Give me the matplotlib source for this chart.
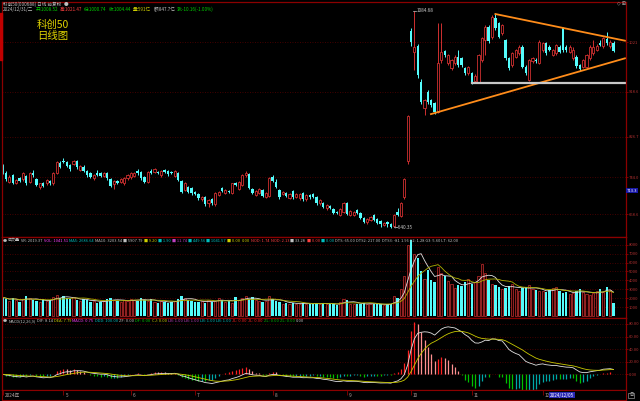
import numpy as np
import pandas as pd
import matplotlib
matplotlib.use("Agg")
import matplotlib.pyplot as plt
from matplotlib.patches import Rectangle

plt.rcParams['font.family'] = ['Noto Sans CJK SC', 'DejaVu Sans']

# ---------------- data ----------------
opens = [767.0, 753.0, 734.8, 748.5, 732.7, 741.7, 739.7, 746.5, 734.8, 751.9,
         739.7, 724.5, 732.7, 731.5, 735.6, 731.5, 752.0, 773.7, 777.2, 775.8,
         769.0, 771.1, 777.2, 758.8, 765.5, 757.3, 753.2, 741.7, 753.2, 751.9,
         746.5, 753.2, 740.9, 730.0, 736.2, 734.8, 731.5, 741.7, 743.8, 746.5,
         757.3, 755.3, 743.8, 734.8, 757.3, 754.6, 755.3, 747.9, 758.8, 756.7,
         755.3, 746.5, 753.2, 737.0, 717.8, 724.5, 721.3, 713.0, 709.6, 698.7,
         702.8, 690.5, 699.3, 688.5, 707.5, 721.3, 711.0, 716.3, 711.0, 732.7,
         719.8, 728.0, 747.9, 749.9, 719.8, 707.5, 712.3, 717.8, 704.0, 705.5,
         745.0, 734.8, 717.8, 709.6, 712.3, 700.8, 716.3, 704.0, 700.8, 711.0,
         698.7, 707.5, 709.6, 702.8, 690.5, 691.8, 680.3, 685.0, 678.2, 673.3,
         665.9, 673.3, 691.8, 666.6, 666.6, 676.8, 671.3, 659.8, 652.8, 656.3,
         666.6, 657.7, 654.3, 646.7, 652.8, 648.1, 644.0, 673.3, 664.5, 702.8,
         776.3,
         1043.6, 1000.0, 1012.8, 939.7, 885.8, 919.2, 902.2, 895.4, 878.2, 984.2,
         1001.6, 977.4, 967.1, 977.4, 991.0, 988.2, 967.8, 957.5, 957.5, 941.1,
         939.7, 984.2, 1025.1, 1052.4, 1031.9, 1069.6, 1059.4, 1039.5, 1025.1, 987.6,
         973.9, 990.9, 997.9, 1011.5, 970.5, 943.2, 981.1, 984.2, 977.4, 1004.6,
         1018.6, 1011.5, 994.4, 997.9, 1011.5, 1049.3, 1011.5, 1001.3, 987.6, 991.0,
         973.9, 970.5, 970.5, 987.6, 997.9, 1004.6, 1019.9, 1011.9, 1027.0, 1011.9,
         1020.0]
closes = [754.6, 739.7, 745.0, 732.7, 738.3, 736.9, 752.0, 731.5, 752.0, 747.9,
          728.0, 731.5, 726.0, 738.3, 731.5, 752.0, 775.8, 765.5, 775.2, 767.0,
          760.2, 777.8, 764.3, 767.0, 757.3, 747.9, 745.0, 748.5, 749.1, 746.5,
          753.2, 741.7, 726.0, 736.9, 732.7, 739.7, 743.0, 747.9, 752.0, 752.0,
          753.2, 741.7, 734.8, 754.6, 753.2, 760.2, 752.0, 756.7, 755.3, 749.9,
          752.0, 756.7, 738.3, 714.3, 731.5, 714.3, 711.0, 709.6, 700.8, 702.8,
          689.1, 697.3, 690.5, 711.0, 714.3, 716.3, 717.8, 713.0, 731.5, 727.4,
          734.8, 749.1, 752.0, 721.3, 711.0, 716.3, 719.1, 705.5, 711.0, 741.7,
          736.9, 723.3, 702.8, 713.7, 705.5, 709.6, 702.8, 709.6, 709.6, 698.7,
          707.5, 702.8, 704.0, 690.5, 697.3, 683.6, 687.0, 680.3, 671.3, 670.0,
          678.2, 691.8, 668.6, 675.4, 673.3, 670.0, 660.4, 652.8, 657.7, 663.1,
          656.3, 650.8, 648.1, 650.8, 648.1, 641.3, 666.6, 666.6, 691.8, 739.7,
          868.5,
          1021.7, 1010.0, 953.4, 898.7, 902.2, 898.7, 891.9, 878.2, 977.4, 1000.6,
          994.8, 994.4, 984.2, 991.0, 973.9, 973.9, 957.5, 969.8, 937.6, 951.4,
          994.4, 1028.6, 1052.4, 1023.7, 1072.9, 1049.1, 1032.0, 1055.9, 987.6, 967.1,
          998.5, 1004.6, 1011.5, 970.5, 956.9, 984.2, 988.0, 981.1, 1021.9, 1018.6,
          998.1, 1004.6, 1004.6, 1014.9, 1001.3, 1004.6, 1004.6, 1011.5, 1004.6, 971.9,
          965.1, 984.2, 994.4, 1011.5, 1011.5, 1012.8, 1015.2, 1029.1, 1018.8, 1022.0,
          1003.6]
highs = [771, 756, 748, 750, 741, 744, 754, 749, 754, 758,
         742, 733, 735, 741, 738, 754, 778, 777, 783, 778,
         771, 780, 779, 769, 768, 759, 755, 750, 758.8, 754,
         755, 755, 743, 739, 738, 742, 745, 750, 754, 754,
         760.2, 757, 746, 756, 760, 762, 757, 758, 761.4, 758,
         757, 759, 755, 739, 734, 727, 723, 715, 711, 705,
         705, 699, 701, 713, 716, 723, 720, 718, 733, 735,
         737, 751, 756, 752, 722, 718, 721, 720, 713, 744,
         748, 739.7, 720, 716, 714, 711, 718, 712, 712, 713,
         710, 710, 712, 705, 699, 694, 689, 687, 680, 675,
         680, 694, 694, 677, 675, 679, 673, 662, 660, 665,
         669, 660, 656, 653, 655, 650, 668, 680.3, 694, 742,
         871,
         1050, 1084.68, 1016, 945, 905, 922, 905, 898, 1059, 1060,
         1005, 997, 987, 995, 1004.6, 991, 970, 972, 960, 955,
         997, 1032, 1056, 1056, 1076, 1078.4, 1062, 1058, 1028, 990,
         1001, 1007, 1014, 1014, 973, 987, 991, 988, 1025, 1021,
         1021, 1014, 1007, 1017, 1014, 1052, 1014, 1014, 1011.5, 994,
         976, 987, 997, 1014, 1025, 1016, 1025, 1032, 1042.5, 1025,
         1023]
lows = [751, 737, 732, 730, 730, 734, 737, 729, 732, 745,
        725, 719, 723, 729, 729, 729, 750, 763, 772.5, 764,
        757, 769, 761, 756, 755, 745, 743, 739, 746.5, 744,
        744, 739, 723, 719, 730, 732, 729, 739, 741, 744,
        747.9, 739, 731.5, 732, 751, 752, 750, 745, 752, 747,
        750, 744, 736, 711, 715, 712, 708, 707, 698, 696,
        686, 683.6, 688, 686, 705, 714, 709, 711, 709, 725,
        717, 726, 745, 719, 709, 705, 710, 703, 700.8, 703,
        734, 721, 700, 707, 703, 698.7, 700, 702, 698, 696,
        696, 700, 702, 688, 688, 681, 676.8, 678, 669, 668,
        664, 671, 666, 664, 664, 668, 658, 650, 648.1, 654,
        654, 648, 642.6, 644, 642.6, 640.35, 642, 664, 662, 700,
        772,
        1012, 963, 948, 893, 871.5, 895, 888, 873.3, 875, 978,
        990, 974, 963, 974, 970, 970, 954, 954, 935, 937,
        937, 981, 994, 1020, 1028, 1045, 1029, 1036, 984, 963,
        970, 988, 995, 967, 953, 941, 978, 978, 975, 1001,
        995, 1002, 992, 995, 998, 1001, 1001, 998, 985, 968,
        961, 967, 967, 985, 995, 1002, 1012, 1009, 1015, 1009,
        1000]
volumes = [2100, 1900, 1700, 2000, 1800, 1600, 1900, 2200, 2000, 1800, 1700, 1600, 1900, 1700, 1800, 2100, 2400, 2000,
           2300, 2000, 1900, 2100, 1800, 1700, 1900, 1800, 1600, 1700, 1500, 1600, 1700, 1900, 2000, 1800, 1700, 1600, 1800, 1700,
           1900, 1800, 1700, 2000, 1800, 1700, 1900, 1600, 1500, 1700, 1600, 1500, 1600, 1700, 1900, 2300, 2000, 1800, 1700,
           1600, 1600, 1700, 1500, 1800, 1600, 1700, 2000, 1800, 1600, 1700, 1500, 2100, 1800, 2000, 2200, 1900, 2100, 1800, 1700, 1600, 1700, 2200,
           1900, 1700, 1600, 1400, 1500, 1400, 1500, 1300, 1400, 1500, 1300, 1400, 1300, 1500, 1400, 1500, 1300, 1400, 1300, 1200, 1600, 1900,
           1800, 1400, 1300, 1300, 1400, 1500, 1300, 1400, 1300, 1400, 1300, 1200, 1300, 1400, 2200, 2000, 3000, 4500, 8000,
           8500, 7000, 6500, 5000, 4200, 5200, 4000, 3800, 5500, 4800, 4500, 3900, 3600, 3200, 3500, 3400, 3800, 4200,
           3600, 3800, 4500, 5800, 4800, 4000, 3600, 3500, 3300, 3000, 3200, 3400, 3600, 3000, 2800, 3100, 3300, 3500, 3000, 2900, 2800,
           2800, 2700, 2900, 3100, 3300, 2800, 2600, 2700, 2500, 2600, 2800, 3000, 2700, 2500, 2400, 2600, 2800, 3000, 2700, 3300, 2900, 1500]

month_starts = [0, 18, 38, 57, 80, 102, 121, 139, 160]
month_labels = ['2024年', '5', '6', '7', '8', '9', '10', '11', '12']
price_ticks = [668.6, 744.0, 826.7, 918.6, 1021.0]
price_tick_labels = ['668.6', '744.0', '826.7', '918.6', '1021']
vol_ticks = [1000, 2000, 3000, 4000, 5000, 6000, 7000, 8000]
macd_ticks = [0, 20, 40, 60, 80]
low_value, low_index = 640.35, 115
high_value, high_index = 1084.68, 122
tri_upper_x, tri_upper_y = [146, 184.4], [1078.4, 1023.7]
tri_lower_x, tri_lower_y = [126.9, 184.4], [873.3, 987.6]
support_x, support_y = [139, 184.4], [937.6, 937.6]

# ---------------- figure ----------------
W, H = 640, 401
fig = plt.figure(figsize=(6.4, 4.01), dpi=100, facecolor='black')

def box(x0, y0, x1, y1):
    return [x0 / W, 1 - y1 / H, (x1 - x0) / W, (y1 - y0) / H]

FRAME = '#8b0000'
GRID = '#5a0000'
LAB = '#b03030'
CYAN = '#54fcfc'
RED = '#d03030'
VRED = '#a82828'

ax_p = fig.add_axes(box(2, 2, 626, 237))
ax_v = fig.add_axes(box(2, 237, 626, 318))
ax_m = fig.add_axes(box(2, 318, 626, 390))
for ax in (ax_p, ax_v, ax_m):
    ax.set_facecolor('black')
    ax.set_xlim(-0.2, 184.7)
    for s in ax.spines.values():
        s.set_color(FRAME)
        s.set_linewidth(0.9)
    ax.tick_params(axis='x', bottom=False, labelbottom=False)
    ax.yaxis.tick_right()
    ax.tick_params(axis='y', colors=FRAME, labelcolor=LAB, labelsize=3.0,
                   length=1.5, width=0.6, pad=0.6)
    ax.grid(axis='y', color=GRID, linestyle=(0, (1, 2)), linewidth=0.6)
    ax.set_axisbelow(True)

o = np.array(opens); c = np.array(closes); h = np.array(highs); l = np.array(lows)
x = np.arange(len(c))
up = c >= o
top = np.maximum(o, c); bot = np.minimum(o, c)
body = np.maximum(top - bot, 0.9)

# price panel
ax_p.set_ylim(621.5, 1103)
ax_p.set_yticks(price_ticks)
ax_p.set_yticklabels(price_tick_labels)
ax_p.vlines(x[~up], l[~up], h[~up], colors=CYAN, linewidth=0.7)
ax_p.vlines(x[up], top[up], h[up], colors=RED, linewidth=0.7)
ax_p.vlines(x[up], l[up], bot[up], colors=RED, linewidth=0.7)
ax_p.bar(x[~up], body[~up], bottom=bot[~up], width=0.7, color=CYAN, linewidth=0)
ax_p.bar(x[up], body[up], bottom=bot[up], width=0.62, facecolor='black',
         edgecolor=RED, linewidth=0.6)
ax_p.plot(tri_upper_x, tri_upper_y, color='#ff8c1a', linewidth=1.3)
ax_p.plot(tri_lower_x, tri_lower_y, color='#ff8c1a', linewidth=1.3)
ax_p.plot(support_x, support_y, color='#c8c8c8', linewidth=1.6)
ax_p.annotate('\u2190' + f'{low_value:.2f}', xy=(low_index + 0.8, low_value),
              color='#c8c8c8', fontsize=3.4, va='center', ha='left')
ax_p.plot([high_index - 0.3, high_index + 0.6], [high_value, high_value], color='#c8c8c8', linewidth=0.5)
ax_p.text(high_index + 0.8, high_value, f'{high_value:.2f}', color='#c8c8c8',
          fontsize=3.4, va='center', ha='left')

# volume panel
vol = np.array(volumes)
ax_v.set_ylim(-225, 8876)
ax_v.set_yticks(vol_ticks)
ax_v.set_yticklabels([str(v) for v in vol_ticks])
ax_v.bar(x[~up], vol[~up], width=0.7, color=CYAN, linewidth=0)
ax_v.bar(x[up], vol[up], width=0.62, facecolor='#200000', edgecolor=VRED, linewidth=0.6)
vs = pd.Series(vol, dtype=float)
ax_v.plot(x, vs.rolling(5, min_periods=1).mean(), color='#e0e0e0', linewidth=0.6)
ax_v.plot(x, vs.rolling(10, min_periods=1).mean(), color='#b0b000', linewidth=0.6)

# MACD panel
cs = pd.Series(c)
dif = cs.ewm(span=12, adjust=False).mean() - cs.ewm(span=26, adjust=False).mean()
dea = dif.ewm(span=9, adjust=False).mean()
hist = 2 * (dif - dea)
ax_m.set_ylim(-24.9, 89.4)
ax_m.set_yticks(macd_ticks)
ax_m.set_yticklabels([f'{v:.2f}' for v in macd_ticks])
hv = hist.values
prev = np.concatenate([[0], hv[:-1]])
cols = []
for cur, pv in zip(hv, prev):
    if cur >= 0:
        cols.append('#ff2020' if cur >= pv else '#ff9090')
    else:
        cols.append('#00c000' if cur <= pv else '#00a8a8')
ax_m.vlines(x, 0, hv, colors=cols, linewidth=0.9)
ax_m.plot(x, dif, color='#e0e0e0', linewidth=0.6)
ax_m.plot(x, dea, color='#c8c800', linewidth=0.6)

# date strip
ax_d = fig.add_axes(box(2, 390, 626, 400))
ax_d.set_facecolor('black')
ax_d.set_xlim(-0.2, 184.7)
ax_d.set_ylim(0, 1)
ax_d.set_xticks([])
ax_d.set_yticks([])
for s in ax_d.spines.values():
    s.set_color(FRAME)
    s.set_linewidth(0.8)
for ms, lab in zip(month_starts, month_labels):
    ax_d.vlines(ms, 0.55, 1.0, colors=FRAME, linewidth=0.6)
    ax_d.text(ms + 0.6, 0.45, lab, color='#b0a0a0', fontsize=3.4, va='center', ha='left')

# highlighted boxes
fig.text(550 / W, 1 - 395 / H, '2024/12/05', color='white', fontsize=3.3, va='center', ha='left',
         bbox=dict(facecolor='#2828b4', edgecolor='none', pad=0.6))
fig.text(627 / W, 1 - 190.5 / H, '713.3', color='white', fontsize=3.0, va='center', ha='left',
         bbox=dict(facecolor='#1818a8', edgecolor='none', pad=0.5))

# big title
fig.text(37 / W, 1 - 24.5 / H, '科创50', color='#e0d400', fontsize=7.5, va='center', ha='left')
fig.text(37 / W, 1 - 36.5 / H, '日线图', color='#e0d400', fontsize=7.5, va='center', ha='left')

# left red marker
fig.patches.append(Rectangle((0, 1 - 60 / H), 2 / W, 47 / H, transform=fig.transFigure,
                             color='#c00000', zorder=5))

renderer = fig.canvas.get_renderer()

def segments(y_px, x_px, segs, size=3.3, gap=2.0):
    xx = x_px
    for txt, col in segs:
        t = fig.text(xx / W, 1 - y_px / H, txt, color=col, fontsize=size, va='center', ha='left')
        xx += t.get_window_extent(renderer=renderer).width + gap

segments(4, 3, [('科创50(000688) 日线 前复权', '#c0c0c0'), ('●', '#c0c0c0')])
segments(9.5, 3, [('2024/12/31/二', '#c0c0c0'), ('开:1008.52', '#00d000'), ('高:1021.47', '#ff4040'),
                  ('低:1000.74', '#00d000'), ('收:1004.44', '#00d000'), ('量:591亿', '#d0d000'),
                  ('额:847.7亿', '#c0c0c0'), ('涨:-10.16(-1.00%)', '#00d000')])
segments(240.5, 3, [('●', '#c0c0c0'), ('成交量', '#c0c0c0'), ('VR: 2019.37', '#c0c0c0'),
                    ('VOL: 1041.51', '#ff40ff'), ('MA5: 2686.64', '#00c0c0'), ('MA10: 3203.54', '#c0c0c0'),
                    ('■ 5907.79', '#c0c0c0'), ('■ 9.20', '#d0d000'), ('■ 1.90', '#00c0c0'),
                    ('■ 11.74', '#c040c0'), ('■ 449.56', '#00c0c0'), ('■ 1041.57', '#00c0c0'),
                    ('■ 0.00', '#d0d000'), ('0.00', '#d0d000'), ('NOD: 1.74', '#ff4040'),
                    ('NOD: 2.13', '#ff4040'), ('■ 33.28', '#c0c0c0'), ('■ 0.00', '#ff4040'),
                    ('■ 0.00', '#00c0c0'), ('DTS: 65.00', '#c0c0c0'), ('DTS2: 217.00', '#c0c0c0'),
                    ('DTS3: -81', '#c0c0c0'), ('1.96 G2: 1.28 G3: 5.60 LT: 62.00', '#c0c0c0')],
         size=2.9, gap=1.2)
segments(321, 3, [('●', '#c0c0c0'), ('MACD(12,26,9)', '#c0c0c0'), ('DIF: 8.14', '#c0c0c0'),
                  ('DEA: 7.79', '#d0d000'), ('MACD: 0.75', '#ff40ff'), ('DDD: 100.00', '#00c0c0'),
                  ('ZF: 0.00', '#c0c0c0'), ('DF: 0.00', '#00d000'), ('CJ: 0.00', '#d0d000'),
                  ('LB: 1.00', '#c040c0'), ('LB: 1.00', '#c040c0'), ('LB: 1.00', '#00c0c0'),
                  ('LB: 1.00', '#00c0c0'), ('JL: 0.00', '#ff2020'), ('JL: 0.00', '#ff2020'),
                  ('ZL: 0.00', '#00c000'), ('ZL: 0.00', '#00c000'), ('0.00', '#c0c0c0')],
         size=2.9, gap=1.2)
fig.text(617 / W, 1 - 4 / H, '◇ ⊞', color='#c0c0c0', fontsize=3.3, va='center', ha='left',
         family=['DejaVu Sans'])
fig.text(629 / W, 1 - 395.5 / H, '日', color='#c0c0c0', fontsize=3.0, va='center', ha='left',
         bbox=dict(facecolor='black', edgecolor='#909090', pad=0.4, linewidth=0.5))

fig.savefig('out.png', dpi=100, facecolor='black')
